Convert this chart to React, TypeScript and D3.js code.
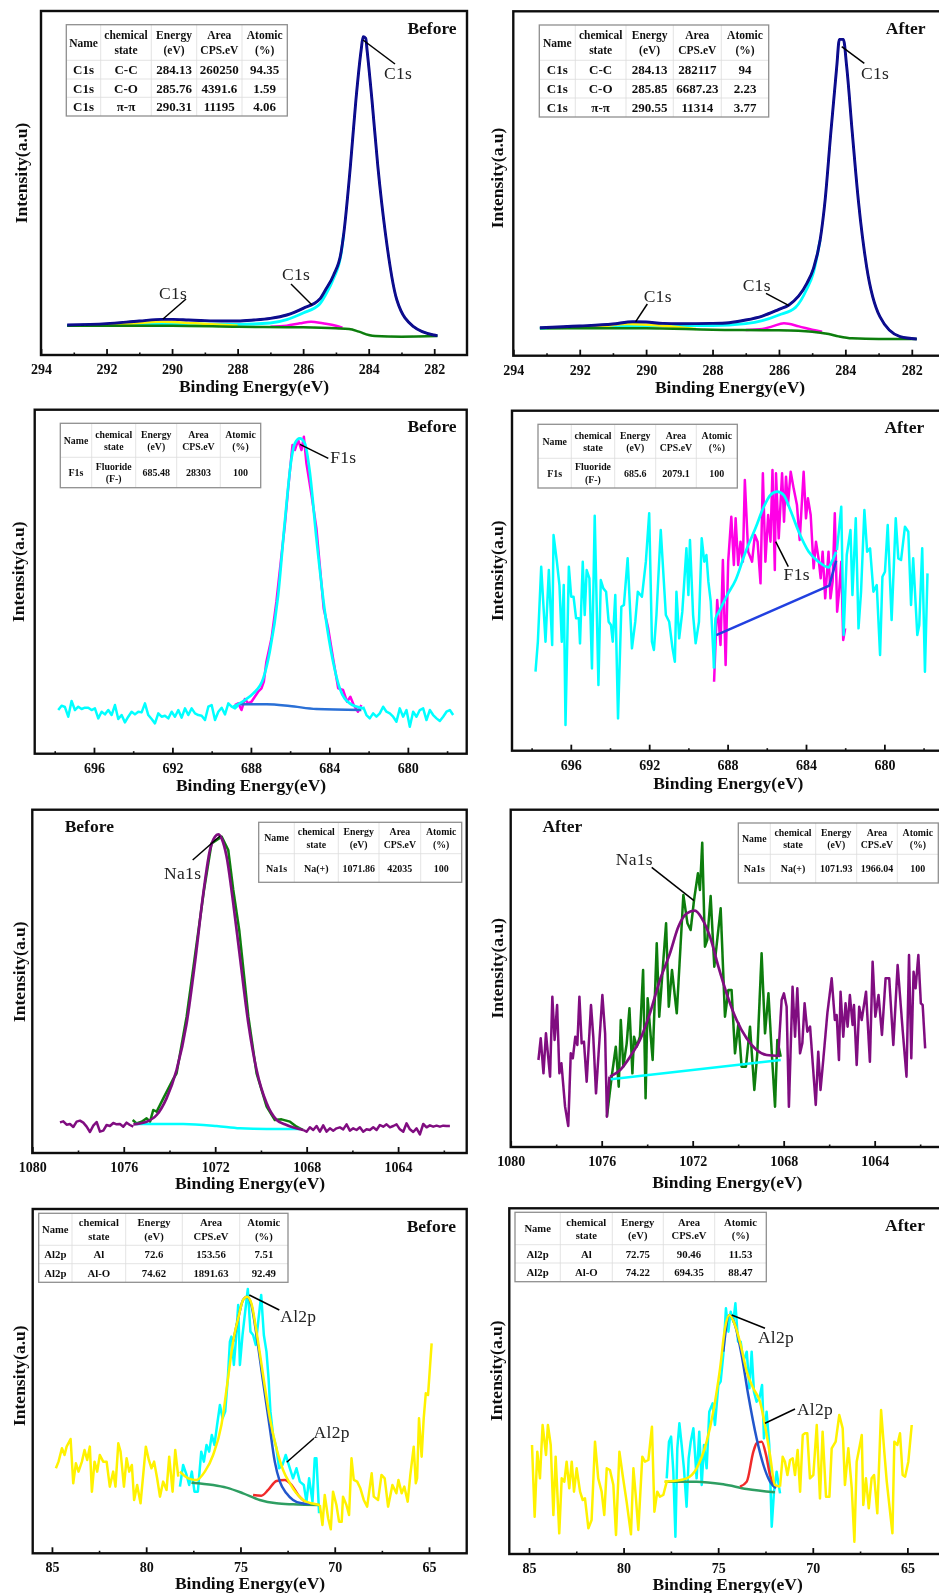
import { useEffect, useRef } from 'react';
import * as d3 from 'd3';

// ---- Axis ticks ----
const c1sMajor = [294, 292, 290, 288, 286, 284, 282];
const c1sMinor = [293, 291, 289, 287, 285, 283];
const f1sMajor = [696, 692, 688, 684, 680];
const f1sMinor = [698, 694, 690, 686, 682, 678];
const na1sMajor = [1080, 1076, 1072, 1068, 1064];
const na1sMinor = [1078, 1074, 1070, 1066, 1062];
const al2pMajor = [85, 80, 75, 70, 65];
const al2pMinor = [82.5, 77.5, 72.5, 67.5];

// ---- Table contents ----
const headers = ['Name', 'chemical\nstate', 'Energy\n(eV)', 'Area\nCPS.eV', 'Atomic\n(%)'];
const c1sBeforeRows = [
  ['C1s', 'C-C', '284.13', '260250', '94.35'],
  ['C1s', 'C-O', '285.76', '4391.6', '1.59'],
  ['C1s', 'π-π', '290.31', '11195', '4.06'],
];
const c1sAfterRows = [
  ['C1s', 'C-C', '284.13', '282117', '94'],
  ['C1s', 'C-O', '285.85', '6687.23', '2.23'],
  ['C1s', 'π-π', '290.55', '11314', '3.77'],
];
const f1sBeforeRows = [['F1s', 'Fluoride\n(F-)', '685.48', '28303', '100']];
const f1sAfterRows = [['F1s', 'Fluoride\n(F-)', '685.6', '2079.1', '100']];
const na1sBeforeRows = [['Na1s', 'Na(+)', '1071.86', '42035', '100']];
const na1sAfterRows = [['Na1s', 'Na(+)', '1071.93', '1966.04', '100']];
const al2pBeforeRows = [
  ['Al2p', 'Al', '72.6', '153.56', '7.51'],
  ['Al2p', 'Al-O', '74.62', '1891.63', '92.49'],
];
const al2pAfterRows = [
  ['Al2p', 'Al', '72.75', '90.46', '11.53'],
  ['Al2p', 'Al-O', '74.22', '694.35', '88.47'],
];

// evenly spaced acquisition channels
const channels = (start: number, step: number, n: number) => d3.range(n).map((i) => start - i * step);

// ---- C1s before ----
const c1bEnvEv = [293.2, 292, 291, 290.3, 290, 289.5, 289, 288.5, 288, 287.5, 287, 286.5, 286, 285.5, 285.32, 285.07, 284.84, 284.76, 284.56, 284.39, 284.23, 284.17, 284.09, 284.05, 283.9, 283.72, 283.49, 283.14, 282.63, 282.02, 281.9];
const c1bEnv = [90, 94, 102, 107, 107, 105, 103, 102, 102, 105, 110, 120, 140, 167, 195, 240, 310, 365, 565, 765, 915, 955, 950, 915, 765, 565, 365, 165, 85, 60, 58];
const c1bMainEv = [293.2, 291, 290, 288, 287, 286.5, 286, 285.5, 285.32, 285.07, 284.84, 284.76];
const c1bMain = [88, 92, 93, 92, 96, 106, 126, 152, 180, 230, 305, 365];
const c1bBaseEv = [293.2, 290, 288, 286, 285, 284.6, 284.3, 284, 283.8, 283, 281.9];
const c1bBase = [88, 88, 85, 83, 80, 78, 70, 60, 57, 55, 57];
const c1bCoEv = [287, 286.5, 286.1, 285.76, 285.4, 285, 284.8];
const c1bCo = [85, 88, 95, 100, 95, 88, 82];
const c1bPiEv = [293, 291.5, 290.31, 289.3, 288];
const c1bPi = [88, 92, 100, 95, 88];

// ---- C1s after ----
const c1aEnvEv = [293.2, 292, 291, 290.4, 290, 289.5, 289, 288, 287.5, 287, 286.5, 286, 285.7, 285.16, 284.96, 284.76, 284.61, 284.44, 284.26, 284.18, 284.06, 283.96, 283.79, 283.61, 283.36, 282.96, 282.35, 281.85];
const c1aEnv = [84, 89, 95, 102, 101, 97, 96, 97, 99, 107, 119, 139, 152, 217, 262, 347, 467, 667, 867, 949, 949, 867, 667, 467, 267, 117, 57, 50];
const c1aMainEv = [293.2, 291, 290, 288, 287, 286.5, 286, 285.5, 285.16, 284.96, 284.76];
const c1aMain = [82, 88, 90, 90, 96, 105, 122, 145, 200, 250, 347];
const c1aBaseEv = [293.2, 290, 288, 286, 285, 284.5, 284.2, 283.8, 283, 281.85];
const c1aBase = [82, 82, 78, 76, 72, 65, 58, 52, 50, 50];
const c1aCoEv = [287, 286.5, 286.2, 285.85, 285.4, 285, 284.7];
const c1aCo = [77, 80, 88, 97, 88, 78, 72];
const c1aPiEv = [293, 291.5, 290.55, 289.5, 288.5];
const c1aPi = [83, 87, 95, 90, 80];

// ---- F1s before ----
const f1bLeft = [131, 144, 140, 111, 158, 131, 141, 134, 138, 138, 131, 136, 106, 126, 118, 131, 116, 146, 104, 116, 94, 111, 126, 118, 126, 124, 151, 116, 104, 91, 121, 111, 114, 106, 126, 111, 131, 108, 136, 116, 136, 121, 116, 114, 101, 141, 146, 101, 126, 138, 118, 151, 141, 136, 146];
const f1bRight = [141, 116, 106, 121, 111, 121, 141, 126, 121, 111, 96, 136, 111, 131, 81, 126, 111, 131, 136, 101, 131, 116, 106, 98, 111, 126, 131, 116];
const f1bFitEv = [688.9, 688.31, 687.88, 687.37, 687.04, 686.61, 686.27, 685.93, 685.76, 685.51, 685.25, 685, 684.66, 684.23, 683.81, 683.47, 682.96, 682.28];
const f1bFit = [141, 161, 181, 226, 306, 476, 696, 886, 931, 946, 931, 846, 646, 426, 276, 196, 151, 136];
const f1bRawEv = [688.82, 688.65, 688.48, 688.31, 688.14, 687.97, 687.8, 687.63, 687.46, 687.34, 687.21, 686.95, 686.7, 686.44, 686.27, 686.1, 685.88, 685.76, 685.59, 685.42, 685.3, 685.17, 684.91, 684.66, 684.49, 684.29, 684.06, 683.81, 683.55, 683.3, 683.1, 682.93, 682.76, 682.54, 682.37];
const f1bRaw = [146, 151, 131, 164, 151, 156, 171, 186, 196, 216, 276, 346, 456, 596, 686, 796, 926, 911, 941, 911, 951, 871, 776, 676, 566, 436, 376, 286, 196, 191, 156, 171, 146, 126, 146];
const f1bBaseEv = [688.56, 687.2, 686.02, 684.66, 682.37];
const f1bBase = [148, 148, 143, 134, 131];

// ---- F1s after ----
const f1aLeftEv = [697.8, 697.68, 697.51, 697.29, 697.12, 696.95, 696.88, 696.71, 696.58, 696.46, 696.36, 696.27, 696.1, 695.98, 695.86, 695.73, 695.59, 695.53, 695.39, 695.29, 695.19, 695.05, 694.92, 694.78, 694.59, 694.47, 694.34, 694.2, 694.07, 693.95, 693.86, 693.73, 693.59, 693.42, 693.29, 693.1, 692.88, 692.71, 692.58, 692.37, 692.17, 692, 691.86, 691.76, 691.63, 691.41, 691.15, 690.98, 690.81, 690.69, 690.61, 690.47, 690.31, 690.1, 690, 689.92, 689.76, 689.63, 689.46, 689.32, 689.19, 689.08, 688.98, 688.86, 688.69];
const f1aLeft = [237, 327, 552, 327, 542, 317, 647, 567, 497, 327, 497, 77, 552, 462, 462, 397, 397, 322, 567, 407, 542, 517, 247, 705, 197, 512, 487, 477, 387, 377, 327, 467, 97, 432, 437, 577, 307, 387, 477, 462, 567, 712, 327, 302, 407, 662, 407, 387, 307, 267, 477, 337, 417, 607, 467, 632, 407, 322, 387, 637, 567, 587, 507, 447, 247];
const f1aRightEv = [682.42, 682.2, 682.08, 681.92, 681.73, 681.63, 681.46, 681.32, 681.19, 681.02, 680.88, 680.73, 680.56, 680.39, 680.22, 680.1, 679.97, 679.83, 679.63, 679.42, 679.29, 679.15, 678.95, 678.78, 678.64, 678.53, 678.32, 678.22, 678.07, 677.93, 677.8];
const f1aRight = [602, 732, 347, 587, 662, 467, 697, 367, 477, 722, 597, 607, 477, 497, 287, 522, 537, 677, 392, 697, 577, 572, 672, 657, 437, 577, 347, 377, 607, 237, 532];
const f1aFitEv = [688.69, 688.61, 688.44, 688.02, 687.59, 687.08, 686.58, 686.15, 685.81, 685.47, 685.14, 684.8, 684.37, 683.86, 683.36, 682.85, 682.68, 682.46];
const f1aFit = [247, 397, 417, 467, 512, 597, 667, 732, 767, 777, 767, 722, 657, 597, 567, 550, 567, 597];
const f1aBaseEv = [688.58, 682.81, 682.46];
const f1aBase = [347, 495, 570];
const f1aRawEv = [688.69, 688.53, 688.36, 688.24, 688.1, 687.97, 687.81, 687.68, 687.59, 687.46, 687.34, 687.22, 687.12, 686.95, 686.75, 686.61, 686.47, 686.32, 686.2, 686.07, 685.93, 685.81, 685.71, 685.59, 685.53, 685.39, 685.22, 685.12, 685.02, 684.92, 684.78, 684.63, 684.46, 684.32, 684.12, 684, 683.9, 683.76, 683.61, 683.49, 683.36, 683.25, 683.15, 683.02, 682.85, 682.75, 682.64, 682.53, 682.41, 682.31, 682.2, 682.1, 682];
const f1aRaw = [207, 452, 317, 572, 257, 567, 702, 557, 697, 557, 627, 567, 812, 597, 567, 647, 627, 502, 832, 567, 707, 627, 842, 542, 832, 637, 832, 687, 822, 737, 837, 787, 737, 632, 837, 697, 757, 707, 547, 627, 577, 517, 597, 457, 597, 457, 507, 712, 417, 477, 567, 332, 367];

// ---- Na1s before ----
const n1bLeft = [92, 95, 85, 87, 78, 94, 97, 91, 79, 63, 82, 93, 64, 67, 84, 81, 90, 86, 87, 79, 91, 84, 79];
const n1bRight = [69, 64, 77, 69, 81, 64, 83, 64, 74, 67, 74, 77, 71, 86, 67, 74, 69, 77, 64, 71, 69, 77, 69, 84, 79, 86, 77, 81, 86, 71, 64, 89, 71, 63, 74, 56, 87, 77, 83, 79, 82, 79, 82, 81, 81];
const n1bFitEv = [1075.58, 1075, 1074.56, 1074.13, 1073.69, 1073.25, 1072.89, 1072.52, 1072.23, 1072.01, 1071.87, 1071.72, 1071.5, 1071.21, 1070.92, 1070.55, 1070.19, 1069.75, 1069.31, 1068.88, 1068.15];
const n1bFit = [86, 94, 114, 164, 249, 389, 569, 779, 909, 949, 956, 944, 889, 749, 589, 389, 249, 149, 99, 84, 69];
const n1bRawEv = [1075.61, 1075.44, 1075.22, 1075, 1074.85, 1074.71, 1074.56, 1074.27, 1073.86, 1073.69, 1073.25, 1072.89, 1072.49, 1072.16, 1071.72, 1071.43, 1071.21, 1070.95, 1070.55, 1070.19, 1069.75, 1069.39, 1069.1, 1068.73, 1068.44, 1068.15];
const n1bRaw = [99, 89, 94, 104, 94, 129, 124, 164, 219, 239, 409, 589, 789, 929, 949, 909, 789, 669, 409, 239, 139, 99, 101, 94, 79, 69];
const n1bBaseEv = [1075.51, 1073.4, 1071.94, 1070.92, 1069.75, 1068.29];
const n1bBase = [87, 87, 81, 74, 72, 72];

// ---- Na1s after ----
const n1aLeftEv = [1078.78, 1078.68, 1078.56, 1078.45, 1078.27, 1078.17, 1078.07, 1077.96, 1077.86, 1077.77, 1077.61, 1077.47, 1077.36, 1077.27, 1077.16, 1077.07, 1076.98, 1076.88, 1076.78, 1076.66, 1076.47, 1076.37, 1076.25, 1075.97, 1075.85, 1075.77, 1075.66];
const n1aLeft = [261, 326, 221, 341, 211, 451, 321, 426, 221, 251, 121, 63, 281, 266, 331, 306, 451, 311, 316, 196, 426, 331, 161, 456, 341, 91, 211];
const n1aRawEv = [1075.77, 1075.56, 1075.38, 1075.25, 1075.16, 1075.05, 1074.9, 1074.78, 1074.65, 1074.58, 1074.46, 1074.32, 1074.18, 1074.07, 1073.98, 1073.76, 1073.58, 1073.47, 1073.32, 1073.17, 1073.05, 1072.91, 1072.7, 1072.41, 1072.23, 1072.09, 1071.94, 1071.77, 1071.68, 1071.58, 1071.46, 1071.36, 1071.21, 1071.05, 1070.77, 1070.58, 1070.43, 1070.29, 1070.14, 1069.99, 1069.85, 1069.66, 1069.48, 1069.29, 1069.16, 1068.97, 1068.82, 1068.67, 1068.53, 1068.38, 1068.28, 1068.13];
const n1aRaw = [91, 211, 301, 181, 381, 241, 311, 416, 221, 331, 301, 331, 531, 146, 446, 261, 611, 391, 531, 671, 421, 531, 401, 756, 671, 651, 741, 821, 771, 913, 601, 621, 753, 541, 716, 391, 471, 471, 281, 371, 241, 241, 361, 171, 281, 581, 341, 461, 291, 121, 321, 271];
const n1aFitEv = [1075.63, 1075.19, 1074.75, 1074.32, 1073.88, 1073.44, 1073, 1072.63, 1072.26, 1071.9, 1071.6, 1071.24, 1070.87, 1070.51, 1070.07, 1069.63, 1069.19, 1068.75, 1068.16];
const n1aFit = [211, 231, 271, 321, 401, 501, 581, 661, 701, 709, 686, 631, 541, 461, 381, 326, 291, 276, 273];
const n1aBaseEv = [1075.6, 1068.13];
const n1aBase = [203, 261];
const n1aRightEv = [1068.24, 1068.09, 1067.99, 1067.87, 1067.77, 1067.61, 1067.5, 1067.4, 1067.28, 1067.18, 1067.08, 1066.96, 1066.84, 1066.59, 1066.48, 1066.38, 1066.26, 1066.08, 1065.89, 1065.75, 1065.67, 1065.57, 1065.5, 1065.38, 1065.28, 1065.19, 1065.09, 1064.97, 1064.91, 1064.79, 1064.68, 1064.57, 1064.38, 1064.21, 1064.09, 1063.97, 1063.83, 1063.68, 1063.52, 1063.36, 1063.18, 1062.99, 1062.77, 1062.6, 1062.49, 1062.39, 1062.29, 1062.2, 1062.08, 1061.97, 1061.89, 1061.78];
const n1aRight = [271, 441, 461, 421, 121, 481, 331, 476, 281, 311, 431, 346, 361, 126, 286, 171, 261, 401, 506, 381, 396, 261, 466, 331, 431, 361, 456, 366, 426, 246, 421, 381, 466, 256, 556, 391, 456, 336, 506, 506, 306, 546, 351, 211, 576, 266, 526, 476, 576, 431, 426, 296];

// ---- Al2p before ----
const a2bLeftEv = [84.79, 84.65, 84.47, 84.33, 84.22, 84.01, 83.87, 83.73, 83.59, 83.41, 83.27, 83.13, 82.99, 82.88, 82.74, 82.6, 82.46, 82.28, 82.1, 81.93, 81.75, 81.63, 81.48, 81.36, 81.18, 81.04, 80.9, 80.76, 80.64, 80.48, 80.3, 80.02, 79.86, 79.72, 79.58, 79.42, 79.27, 79.1, 78.92, 78.78, 78.6, 78.46, 78.3];
const a2bLeft = [255, 275, 315, 295, 320, 343, 210, 270, 245, 275, 310, 280, 320, 185, 275, 245, 295, 275, 275, 200, 245, 200, 330, 305, 200, 285, 245, 265, 160, 205, 150, 320, 280, 255, 275, 225, 170, 215, 190, 290, 185, 310, 230];
const a2bRawEv = [78.21, 78.04, 77.86, 77.72, 77.58, 77.44, 77.26, 77.08, 76.94, 76.8, 76.66, 76.52, 76.38, 76.24, 76.09, 75.95, 75.81, 75.67, 75.56, 75.48, 75.35, 75.25, 75.12, 75.03, 74.89, 74.75, 74.61, 74.47, 74.33, 74.19, 74.04, 73.9, 73.76, 73.62, 73.51, 73.41, 73.27, 73.09, 72.95, 72.77, 72.6, 72.38, 72.21, 72.03, 71.85, 71.64, 71.5, 71.36, 71.18, 71.06, 70.97, 70.83];
const a2bRaw = [200, 265, 235, 205, 245, 185, 185, 305, 275, 325, 305, 355, 325, 385, 445, 405, 425, 525, 635, 650, 565, 635, 745, 565, 655, 725, 793, 665, 655, 625, 705, 775, 655, 605, 525, 425, 355, 315, 255, 265, 295, 255, 225, 255, 215, 205, 155, 225, 155, 285, 285, 120];
const a2bFitEv = [78.21, 77.77, 77.33, 76.89, 76.45, 76.01, 75.66, 75.39, 75.12, 74.86, 74.65, 74.42, 74.15, 73.8, 73.44, 73.09, 72.74, 72.38, 72.03, 71.68, 71.24, 70.79];
const a2bFit = [245, 225, 220, 245, 295, 385, 525, 635, 705, 760, 770, 750, 665, 535, 405, 315, 250, 210, 180, 160, 150, 145];
const a2bOxideEv = [75.39, 75.12, 74.86, 74.65, 74.42, 74.15, 73.8, 73.44, 73.18, 72.91, 72.56, 72.21, 71.76, 71.32];
const a2bOxide = [635, 705, 760, 770, 745, 655, 515, 375, 275, 215, 180, 160, 150, 148];
const a2bMetalEv = [74.33, 73.89, 73.53, 73.09, 72.65, 72.29, 71.94, 71.59];
const a2bMetal = [175, 173, 190, 217, 220, 205, 175, 155];
const a2bBaseEv = [77.6, 76.45, 75.74, 74.86, 73.98, 73.09, 72.21, 70.79];
const a2bBase = [212, 205, 197, 180, 160, 150, 147, 145];
const a2bRightEv = [70.79, 70.65, 70.53, 70.35, 70.21, 70.09, 69.91, 69.77, 69.63, 69.56, 69.38, 69.24, 69.11, 68.99, 68.81, 68.64, 68.46, 68.28, 68.04, 67.93, 67.7, 67.52, 67.35, 67.17, 66.94, 66.73, 66.62, 66.45, 66.31, 66.13, 65.99, 65.81, 65.7, 65.63, 65.53, 65.39, 65.28, 65.17, 65.05, 64.86];
const a2bRight = [145, 85, 175, 105, 72, 185, 145, 95, 95, 170, 145, 115, 285, 220, 215, 195, 160, 140, 240, 170, 160, 235, 225, 140, 205, 180, 220, 180, 200, 155, 235, 320, 210, 225, 405, 290, 405, 480, 475, 630];

// ---- Al2p after ----
const a2aLeftEv = [84.84, 84.7, 84.56, 84.42, 84.28, 84.1, 84, 83.85, 83.71, 83.59, 83.4, 83.27, 83.13, 83.01, 82.87, 82.74, 82.62, 82.48, 82.3, 82.16, 82.04, 81.86, 81.69, 81.51, 81.34, 81.16, 81.02, 80.89, 80.72, 80.54, 80.4, 80.22, 80.05, 79.84, 79.61, 79.48, 79.36, 79.22, 79.01, 78.87, 78.69, 78.5, 78.37, 78.22, 78.08, 77.9, 77.72];
const a2aLeft = [327, 112, 307, 227, 387, 297, 387, 327, 117, 292, 62, 227, 217, 277, 197, 277, 187, 257, 187, 162, 167, 77, 102, 337, 227, 187, 117, 257, 252, 207, 57, 307, 237, 157, 59, 257, 177, 72, 292, 277, 282, 382, 127, 187, 172, 177, 217];
const a2aRawEv = [77.72, 77.6, 77.49, 77.37, 77.26, 77.16, 77.05, 76.93, 76.81, 76.67, 76.56, 76.45, 76.31, 76.14, 76, 75.87, 75.75, 75.61, 75.47, 75.29, 75.17, 74.99, 74.87, 74.73, 74.59, 74.46, 74.34, 74.2, 74.09, 73.95, 73.81, 73.67, 73.49, 73.35, 73.23, 73.11, 72.97, 72.82, 72.68, 72.58, 72.44, 72.3, 72.17, 72.05, 71.91, 71.73];
const a2aRaw = [227, 337, 352, 247, 52, 317, 392, 327, 257, 142, 287, 337, 377, 227, 367, 207, 327, 257, 427, 452, 387, 507, 517, 597, 737, 667, 727, 697, 752, 637, 637, 577, 607, 497, 607, 487, 457, 467, 507, 347, 427, 327, 82, 187, 247, 182];
const a2aFitEv = [77.85, 77.37, 76.67, 76.14, 75.61, 75.26, 74.9, 74.64, 74.41, 74.11, 73.81, 73.49, 73.14, 72.79, 72.53, 72.26, 72, 71.73];
const a2aFit = [217, 219, 227, 257, 337, 427, 557, 677, 717, 687, 627, 547, 497, 457, 387, 297, 207, 202];
const a2aOxideEv = [74.73, 74.41, 74.11, 73.76, 73.41, 72.97, 72.61, 72.26, 71.95];
const a2aOxide = [607, 717, 687, 597, 477, 347, 267, 217, 197];
const a2aMetalEv = [73.85, 73.49, 73.14, 72.97, 72.7, 72.47, 72.26, 72];
const a2aMetal = [202, 217, 307, 332, 337, 297, 237, 202];
const a2aBaseEv = [77.81, 76.14, 74.73, 73.49, 72];
const a2aBase = [217, 217, 209, 195, 185];
const a2aRightEv = [71.73, 71.59, 71.47, 71.34, 71.2, 71.06, 70.94, 70.8, 70.67, 70.53, 70.41, 70.29, 70.15, 69.97, 69.79, 69.62, 69.48, 69.3, 69.12, 69, 68.79, 68.6, 68.42, 68.3, 68.12, 67.94, 67.8, 67.68, 67.41, 67.33, 67.19, 67.04, 66.89, 66.76, 66.59, 66.39, 66.22, 66.09, 65.79, 65.69, 65.53, 65.39, 65.25, 65.12, 64.95, 64.77];
const a2aRight = [202, 292, 277, 237, 282, 287, 237, 312, 187, 357, 362, 362, 227, 237, 387, 167, 367, 172, 172, 317, 337, 417, 377, 207, 317, 197, 37, 277, 357, 147, 227, 137, 227, 237, 122, 432, 307, 217, 62, 337, 327, 362, 237, 232, 277, 387];

const CYAN = '#00ffff';
const MAGENTA = '#ff00e6';
const YELLOW = '#fff200';
const GREEN = '#0a7d0a';
const NAVY = '#07078c';
const PURPLE = '#800a80';
const BLUE = '#2257cc';
const RED = '#f02c2c';
const SAGE = '#2f9e62';
const SERIF = '"Liberation Serif", "Times New Roman", serif';

const RAW_W = 2.5;
const FIT_W = 2.7;

interface Series {
  xs: number[];
  ys: number[];
  color: string;
  width: number;
  smooth?: boolean;
}
interface Panel {
  frame: [number, number, number, number]; // left, top, right, bottom
  domain: [number, number];
  major: number[];
  minor: number[];
  series: Series[];
  state: string;
  statePos: [number, number];
  titlePos: [number, number];
  yLabelPos: [number, number];
  rows: string[][];
  colX: number[];
  rowY: number[];
  headSize: number;
  bodySize: number;
  notes: { line: [number, number, number, number]; label: string; pos: [number, number] }[];
}

const c1sSeries = (
  mainEv: number[], main: number[], piEv: number[], pi: number[], coEv: number[], co: number[],
  baseEv: number[], base: number[], envEv: number[], env: number[],
): Series[] => [
  { xs: mainEv, ys: main, color: CYAN, width: 2.8, smooth: true },
  { xs: piEv, ys: pi, color: YELLOW, width: RAW_W, smooth: true },
  { xs: coEv, ys: co, color: MAGENTA, width: RAW_W, smooth: true },
  { xs: baseEv, ys: base, color: GREEN, width: RAW_W, smooth: true },
  { xs: envEv, ys: env, color: NAVY, width: 2.9, smooth: true },
];

// right-hand panels run off the page edge, their right frame line falls outside it
const PANELS: Panel[] = [
  {
    frame: [41, 11, 467, 355], domain: [294, 281], major: c1sMajor, minor: c1sMinor,
    series: c1sSeries(c1bMainEv, c1bMain, c1bPiEv, c1bPi, c1bCoEv, c1bCo, c1bBaseEv, c1bBase, c1bEnvEv, c1bEnv),
    state: 'Before', statePos: [432, 28], titlePos: [254, 386], yLabelPos: [21, 173],
    rows: c1sBeforeRows, colX: [66.3, 100.7, 151.3, 196.7, 242, 287.3], rowY: [24.7, 60.3, 79, 97.3, 116],
    headSize: 11.5, bodySize: 13,
    notes: [
      { line: [363, 40, 395, 64], label: 'C1s', pos: [398, 73] },
      { line: [291, 284, 312, 305], label: 'C1s', pos: [296, 274] },
      { line: [186, 299, 163, 319], label: 'C1s', pos: [173, 293] },
    ],
  },
  {
    frame: [513.3, 11.3, 942, 355.7], domain: [294, 281.09], major: c1sMajor, minor: c1sMinor,
    series: c1sSeries(c1aMainEv, c1aMain, c1aPiEv, c1aPi, c1aCoEv, c1aCo, c1aBaseEv, c1aBase, c1aEnvEv, c1aEnv),
    state: 'After', statePos: [905.7, 28.3], titlePos: [730, 386.7], yLabelPos: [496.7, 178],
    rows: c1sAfterRows, colX: [539.3, 575.3, 626, 673.3, 721.3, 768.7], rowY: [25, 60.3, 79.3, 98, 117],
    headSize: 11.5, bodySize: 13,
    notes: [
      { line: [841.7, 46.7, 864.3, 63.3], label: 'C1s', pos: [875, 72.7] },
      { line: [766, 293.3, 789, 305.7], label: 'C1s', pos: [756.7, 285] },
      { line: [647.3, 304, 635.7, 321.7], label: 'C1s', pos: [657.7, 295.7] },
    ],
  },
  {
    frame: [34.7, 409.7, 466.7, 753.7], domain: [699.02, 677], major: f1sMajor, minor: f1sMinor,
    series: [
      { xs: f1bRawEv, ys: f1bRaw, color: MAGENTA, width: RAW_W },
      { xs: channels(697.82, 0.17, f1bLeft.length), ys: f1bLeft, color: CYAN, width: RAW_W },
      { xs: channels(682.28, 0.17, f1bRight.length), ys: f1bRight, color: CYAN, width: RAW_W },
      { xs: f1bBaseEv, ys: f1bBase, color: '#2a6fd6', width: RAW_W, smooth: true },
      { xs: f1bFitEv, ys: f1bFit, color: CYAN, width: FIT_W, smooth: true },
    ],
    state: 'Before', statePos: [432, 426], titlePos: [251, 785], yLabelPos: [18.3, 571.7],
    rows: f1sBeforeRows, colX: [60.3, 91.7, 135.7, 176.7, 220.3, 260.7], rowY: [423.3, 457.3, 487.7],
    headSize: 9.8, bodySize: 10,
    notes: [{ line: [300, 444.3, 328.3, 458.3], label: 'F1s', pos: [343.3, 457.3] }],
  },
  {
    frame: [512, 410.7, 942, 750.7], domain: [699, 677.06], major: f1sMajor, minor: f1sMinor,
    series: [
      { xs: f1aRawEv, ys: f1aRaw, color: MAGENTA, width: RAW_W },
      { xs: f1aLeftEv, ys: f1aLeft, color: CYAN, width: RAW_W },
      { xs: f1aRightEv, ys: f1aRight, color: CYAN, width: RAW_W },
      { xs: f1aBaseEv, ys: f1aBase, color: '#2040e0', width: RAW_W },
      { xs: f1aFitEv, ys: f1aFit, color: CYAN, width: FIT_W, smooth: true },
    ],
    state: 'After', statePos: [904.3, 427], titlePos: [728.3, 783.3], yLabelPos: [496.7, 570.7],
    rows: f1sAfterRows, colX: [538, 571.3, 614.7, 655.7, 696.3, 737.3], rowY: [424.3, 458.3, 488],
    headSize: 9.8, bodySize: 10,
    notes: [{ line: [775.7, 541.7, 788.3, 566.7], label: 'F1s', pos: [796.7, 574.3] }],
  },
  {
    frame: [32.3, 809.7, 466.7, 1153], domain: [1080, 1061], major: na1sMajor, minor: na1sMinor,
    series: [
      { xs: n1bRawEv, ys: n1bRaw, color: GREEN, width: RAW_W },
      { xs: n1bBaseEv, ys: n1bBase, color: CYAN, width: RAW_W, smooth: true },
      { xs: channels(1078.79, 0.1458, n1bLeft.length), ys: n1bLeft, color: PURPLE, width: RAW_W },
      { xs: channels(1068.15, 0.1458, n1bRight.length), ys: n1bRight, color: PURPLE, width: RAW_W },
      { xs: n1bFitEv, ys: n1bFit, color: PURPLE, width: FIT_W, smooth: true },
    ],
    state: 'Before', statePos: [89.3, 825.7], titlePos: [250, 1182.7], yLabelPos: [19.3, 971.7],
    rows: na1sBeforeRows, colX: [258.7, 294.3, 338.3, 379, 420.7, 461.7], rowY: [822.3, 853.7, 882.3],
    headSize: 9.8, bodySize: 10,
    notes: [{ line: [220, 836, 192.7, 860], label: 'Na1s', pos: [182.7, 872.7] }],
  },
  {
    frame: [510.7, 809.7, 942, 1147], domain: [1080, 1061.04], major: na1sMajor, minor: na1sMinor,
    series: [
      { xs: n1aRawEv, ys: n1aRaw, color: GREEN, width: RAW_W },
      { xs: n1aLeftEv, ys: n1aLeft, color: PURPLE, width: RAW_W },
      { xs: n1aRightEv, ys: n1aRight, color: PURPLE, width: RAW_W },
      { xs: n1aBaseEv, ys: n1aBase, color: CYAN, width: RAW_W },
      { xs: n1aFitEv, ys: n1aFit, color: PURPLE, width: FIT_W, smooth: true },
    ],
    state: 'After', statePos: [562.3, 825.7], titlePos: [727.3, 1181.7], yLabelPos: [497.3, 968.3],
    rows: na1sAfterRows, colX: [738.3, 770.3, 815.7, 856.7, 897.3, 938.3], rowY: [823, 854.3, 883],
    headSize: 9.8, bodySize: 10,
    notes: [{ line: [651.7, 867.3, 694, 900.7], label: 'Na1s', pos: [634.3, 859] }],
  },
  {
    frame: [32.7, 1209, 466.7, 1553.3], domain: [86.02, 63], major: al2pMajor, minor: al2pMinor,
    series: [
      { xs: a2bRawEv, ys: a2bRaw, color: CYAN, width: RAW_W },
      { xs: a2bBaseEv, ys: a2bBase, color: SAGE, width: RAW_W, smooth: true },
      { xs: a2bMetalEv, ys: a2bMetal, color: RED, width: RAW_W, smooth: true },
      { xs: a2bOxideEv, ys: a2bOxide, color: BLUE, width: RAW_W, smooth: true },
      { xs: a2bLeftEv, ys: a2bLeft, color: YELLOW, width: RAW_W },
      { xs: a2bRightEv, ys: a2bRight, color: YELLOW, width: RAW_W },
      { xs: a2bFitEv, ys: a2bFit, color: YELLOW, width: RAW_W, smooth: true },
    ],
    state: 'Before', statePos: [431.3, 1225.7], titlePos: [250, 1583.3], yLabelPos: [19, 1375.7],
    rows: al2pBeforeRows, colX: [38.7, 72, 125.7, 182.3, 239.7, 288], rowY: [1213.3, 1245.3, 1263.7, 1282.3],
    headSize: 10.6, bodySize: 10.8,
    notes: [
      { line: [249.3, 1295, 279.3, 1310], label: 'Al2p', pos: [298.3, 1315.7] },
      { line: [286.7, 1462.3, 314, 1438.3], label: 'Al2p', pos: [331.7, 1432.3] },
    ],
  },
  {
    frame: [509.3, 1208.3, 942, 1554], domain: [86.04, 63.17], major: al2pMajor, minor: al2pMinor,
    series: [
      { xs: a2aRawEv, ys: a2aRaw, color: CYAN, width: RAW_W },
      { xs: a2aBaseEv, ys: a2aBase, color: SAGE, width: RAW_W, smooth: true },
      { xs: a2aMetalEv, ys: a2aMetal, color: RED, width: RAW_W, smooth: true },
      { xs: a2aOxideEv, ys: a2aOxide, color: BLUE, width: RAW_W, smooth: true },
      { xs: a2aLeftEv, ys: a2aLeft, color: YELLOW, width: RAW_W },
      { xs: a2aRightEv, ys: a2aRight, color: YELLOW, width: RAW_W },
      { xs: a2aFitEv, ys: a2aFit, color: YELLOW, width: RAW_W, smooth: true },
    ],
    state: 'After', statePos: [905, 1225], titlePos: [727.7, 1584], yLabelPos: [495.7, 1370.7],
    rows: al2pAfterRows, colX: [515, 560.3, 612.3, 663.3, 714.7, 766.3], rowY: [1212.3, 1244.7, 1263, 1281.7],
    headSize: 10.6, bodySize: 10.8,
    notes: [
      { line: [731.7, 1315, 765, 1328.3], label: 'Al2p', pos: [776, 1337.3] },
      { line: [765, 1423.3, 795, 1409], label: 'Al2p', pos: [815, 1409] },
    ],
  },
];

type Sel = d3.Selection<SVGGElement, unknown, null, undefined>;

// one or two centred lines of text
function cellText(g: Sel, text: string, cx: number, cy: number, size: number) {
  const lines = text.split('\n');
  lines.forEach((line, i) => {
    g.append('text')
      .attr('x', cx)
      .attr('y', cy + (i - (lines.length - 1) / 2) * size * 1.26)
      .attr('dy', '0.35em')
      .attr('text-anchor', 'middle')
      .attr('font-family', SERIF)
      .attr('font-weight', 700)
      .attr('font-size', size)
      .attr('fill', '#111')
      .text(line);
  });
}

function drawTable(g: Sel, p: Panel) {
  const left = p.colX[0];
  const right = p.colX[p.colX.length - 1];
  const top = p.rowY[0];
  const bottom = p.rowY[p.rowY.length - 1];

  g.append('rect')
    .attr('x', left)
    .attr('y', top)
    .attr('width', right - left)
    .attr('height', bottom - top)
    .attr('fill', '#fff');
  p.colX.slice(1, -1).forEach((x) => {
    g.append('line').attr('x1', x).attr('x2', x).attr('y1', top).attr('y2', bottom)
      .attr('stroke', '#dcdcdc').attr('stroke-width', 0.8);
  });
  p.rowY.slice(1, -1).forEach((y) => {
    g.append('line').attr('x1', left).attr('x2', right).attr('y1', y).attr('y2', y)
      .attr('stroke', '#dcdcdc').attr('stroke-width', 0.8);
  });
  g.append('rect')
    .attr('x', left)
    .attr('y', top)
    .attr('width', right - left)
    .attr('height', bottom - top)
    .attr('fill', 'none')
    .attr('stroke', '#8f8f8f')
    .attr('stroke-width', 1.3);

  headers.forEach((h, c) => {
    cellText(g, h, (p.colX[c] + p.colX[c + 1]) / 2, (p.rowY[0] + p.rowY[1]) / 2, p.headSize);
  });
  p.rows.forEach((row, r) => {
    row.forEach((v, c) => {
      const size = v.includes('\n') ? p.headSize : p.bodySize;
      cellText(g, v, (p.colX[c] + p.colX[c + 1]) / 2, (p.rowY[r + 1] + p.rowY[r + 2]) / 2, size);
    });
  });
}

function drawPanel(root: Sel, p: Panel) {
  const [left, top, right, bottom] = p.frame;
  const g = root.append('g');

  const x = d3.scaleLinear().domain(p.domain).range([left, right]);
  // intensity is in arbitrary units, zero sits on the axis line
  const y = d3.scaleLinear().domain([0, (bottom - top) * 3]).range([bottom, top]);

  const line = d3.line<[number, number]>().x((d) => x(d[0])).y((d) => y(d[1]));

  p.series.forEach((s) => {
    g.append('path')
      .datum(d3.zip(s.xs, s.ys) as [number, number][])
      .attr('fill', 'none')
      .attr('stroke', s.color)
      .attr('stroke-width', s.width)
      .attr('stroke-linejoin', 'round')
      .attr('d', line.curve(s.smooth ? d3.curveMonotoneX : d3.curveLinear));
  });

  g.append('rect')
    .attr('x', left)
    .attr('y', top)
    .attr('width', right - left)
    .attr('height', bottom - top)
    .attr('fill', 'none')
    .attr('stroke', '#111')
    .attr('stroke-width', 2.4);

  // Ticks point into the plot
  const minorAxis = d3.axisBottom(x).tickValues(p.minor).tickSizeInner(-2.5).tickSizeOuter(0).tickFormat(() => '');
  const minorG = g.append('g').attr('transform', `translate(0,${bottom})`).call(minorAxis);
  minorG.select('.domain').remove();
  minorG.selectAll('line').attr('stroke', '#111').attr('stroke-width', 1.6);

  const majorAxis = d3.axisBottom(x).tickValues(p.major).tickSizeInner(-6).tickSizeOuter(0).tickPadding(9).tickFormat(d3.format('d'));
  const majorG = g.append('g').attr('transform', `translate(0,${bottom})`).call(majorAxis);
  majorG.select('.domain').remove();
  majorG.selectAll('line').attr('stroke', '#111').attr('stroke-width', 1.8);
  majorG.selectAll('text')
    .attr('fill', '#111')
    .attr('font-family', SERIF)
    .attr('font-weight', 700)
    .attr('font-size', 14);

  drawTable(g, p);

  p.notes.forEach((n) => {
    g.append('line')
      .attr('x1', n.line[0]).attr('y1', n.line[1]).attr('x2', n.line[2]).attr('y2', n.line[3])
      .attr('stroke', '#000').attr('stroke-width', 1.5);
    g.append('text')
      .attr('x', n.pos[0]).attr('y', n.pos[1]).attr('dy', '0.35em')
      .attr('text-anchor', 'middle')
      .attr('font-family', SERIF)
      .attr('font-size', 17.5)
      .attr('fill', '#222')
      .attr('letter-spacing', 0.3)
      .text(n.label);
  });

  const bold = (sel: d3.Selection<SVGTextElement, unknown, null, undefined>, size: number) =>
    sel.attr('text-anchor', 'middle')
      .attr('dy', '0.35em')
      .attr('font-family', SERIF)
      .attr('font-weight', 700)
      .attr('font-size', size)
      .attr('fill', '#111');

  bold(g.append('text').attr('x', p.statePos[0]).attr('y', p.statePos[1]), 17.5).text(p.state);
  bold(g.append('text').attr('x', p.titlePos[0]).attr('y', p.titlePos[1]), 17.5).text('Binding Energy(eV)');
  bold(
    g.append('text').attr('transform', `translate(${p.yLabelPos[0]},${p.yLabelPos[1]}) rotate(-90)`),
    17.5,
  ).text('Intensity(a.u)');
}

export default function App() {
  const svgRef = useRef<SVGSVGElement>(null);

  useEffect(() => {
    const svg = svgRef.current;
    if (!svg) return;
    d3.select(svg).selectAll('*').remove();

    // The source figure is a soft raster, a slight blur brings the strokes closer to it
    const defs = d3.select(svg).append('defs');
    defs.append('filter')
      .attr('id', 'soft')
      .attr('filterUnits', 'userSpaceOnUse')
      .attr('x', 0).attr('y', 0).attr('width', 939).attr('height', 1593)
      .append('feGaussianBlur')
      .attr('stdDeviation', 0.45);

    const root = d3.select(svg).append('g').attr('filter', 'url(#soft)') as unknown as Sel;
    PANELS.forEach((p) => drawPanel(root, p));
  }, []);

  return (
    <svg
      ref={svgRef}
      width={939}
      height={1593}
      viewBox="0 0 939 1593"
      style={{ position: 'absolute', left: 0, top: 0, display: 'block', background: '#fff' }}
    />
  );
}
